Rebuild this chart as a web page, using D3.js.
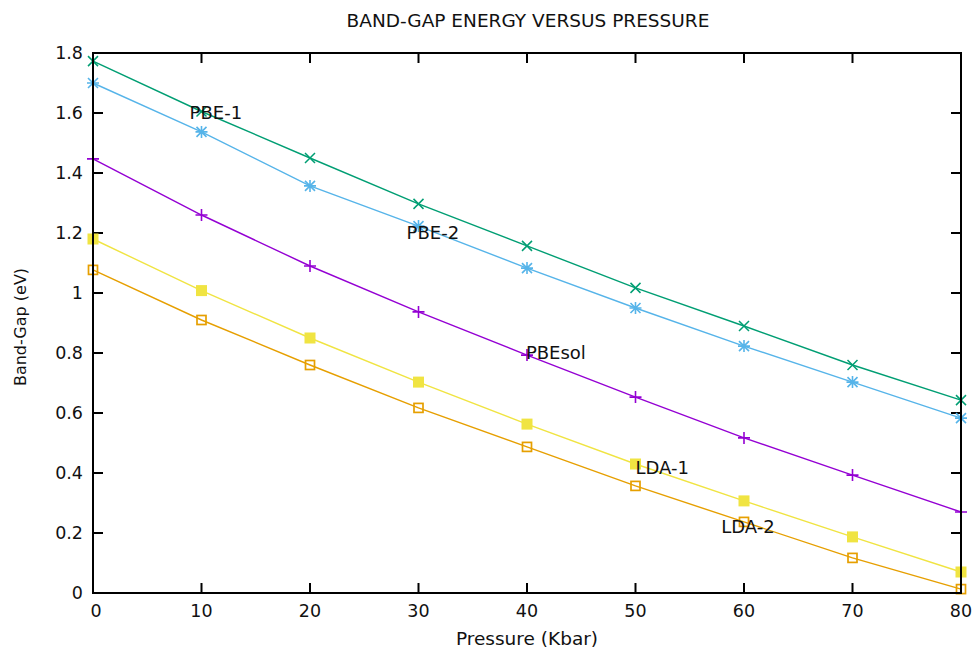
<!DOCTYPE html>
<html>
<head>
<meta charset="utf-8">
<script src="https://cdn.jsdelivr.net/npm/d3@7"></script>
<style>
  body { margin: 0; background: #fff; }
  text { font-family: "DejaVu Sans", sans-serif; fill: #111; }
</style>
</head>
<body>
<div id="canvas"></div>
<script>
// data
let pressure = [0, 10, 20, 30, 40, 50, 60, 70, 80];
let pbe1   = [1.773, 1.605, 1.450, 1.297, 1.157, 1.017, 0.890, 0.760, 0.643];
let pbe2   = [1.700, 1.537, 1.357, 1.223, 1.083, 0.950, 0.823, 0.703, 0.583];
let pbesol = [1.447, 1.260, 1.090, 0.937, 0.793, 0.653, 0.517, 0.393, 0.270];
let lda1   = [1.180, 1.008, 0.850, 0.703, 0.563, 0.430, 0.307, 0.187, 0.070];
let lda2   = [1.077, 0.910, 0.760, 0.617, 0.487, 0.357, 0.237, 0.117, 0.013];
let xTicks = [0, 10, 20, 30, 40, 50, 60, 70, 80];
let yTicks = [0, 0.2, 0.4, 0.6, 0.8, 1, 1.2, 1.4, 1.6, 1.8];
// label text and where it sits (data units)
let labelNames = ["PBE-1", "PBE-2", "PBEsol", "LDA-1", "LDA-2"];
let labelX = [8.9, 28.9, 39.9, 50, 57.9];
let labelY = [1.6, 1.2, 0.8, 0.417, 0.22];

let W = 976, H = 648;
let plotL = 93, plotR = 961, plotT = 53, plotB = 593;

let drawing = d3.select("#canvas").append("svg")
    .attr("width", W).attr("height", H);

let x = d3.scaleLinear().domain([0, 80]).range([plotL, plotR]);
let y = d3.scaleLinear().domain([0, 1.8]).range([plotB, plotT]);

// title
drawing.append("text")
    .attr("x", 528).attr("y", 27)
    .attr("text-anchor", "middle")
    .attr("font-size", 18.5)
    .text("BAND-GAP ENERGY VERSUS PRESSURE");

// ticks on all four sides, pointing in
let tickLen = 10;
let ticks = drawing.append("g").attr("stroke", "#000").attr("stroke-width", 2);
xTicks.forEach(function (t) {
    ticks.append("line").attr("x1", x(t)).attr("x2", x(t)).attr("y1", plotB).attr("y2", plotB - tickLen);
    ticks.append("line").attr("x1", x(t)).attr("x2", x(t)).attr("y1", plotT).attr("y2", plotT + tickLen);
});
yTicks.forEach(function (t) {
    ticks.append("line").attr("x1", plotL).attr("x2", plotL + tickLen).attr("y1", y(t)).attr("y2", y(t));
    ticks.append("line").attr("x1", plotR).attr("x2", plotR - tickLen).attr("y1", y(t)).attr("y2", y(t));
});

// tick labels
drawing.append("g").selectAll("text").data(xTicks).join("text")
    .attr("x", d => x(d) + (d == 0 ? 3 : 0)).attr("y", 617)
    .attr("text-anchor", "middle").attr("font-size", 17.5)
    .text(d => d);
drawing.append("g").selectAll("text").data(yTicks).join("text")
    .attr("x", 83).attr("y", d => y(d) + 6)
    .attr("text-anchor", "end").attr("font-size", 17.5)
    .text(d => d3.format("~g")(d));

// axis titles
drawing.append("text")
    .attr("x", 527).attr("y", 645)
    .attr("text-anchor", "middle").attr("font-size", 18.5)
    .text("Pressure (Kbar)");
drawing.append("text")
    .attr("transform", "translate(26,327) rotate(-90)")
    .attr("text-anchor", "middle").attr("font-size", 16)
    .text("Band-Gap (eV)");

// series
let series = [
    { vals: pbesol, color: "#9400d3", mark: "plus" },
    { vals: pbe1,   color: "#009e73", mark: "cross" },
    { vals: pbe2,   color: "#56b4e9", mark: "star" },
    { vals: lda2,   color: "#e69f00", mark: "box" },
    { vals: lda1,   color: "#f0e442", mark: "fbox" }
];

let line = d3.line().x((d, i) => x(pressure[i])).y(d => y(d));

series.forEach(function (s) {
    let g = drawing.append("g");
    g.append("path").attr("d", line(s.vals))
        .attr("fill", "none").attr("stroke", s.color).attr("stroke-width", 1.4);
    s.vals.forEach(function (v, i) {
        let cx = x(pressure[i]), cy = y(v), r = 5;
        if (s.mark == "plus") {
            g.append("path").attr("d", `M${cx - 6},${cy}H${cx + 6}M${cx},${cy - 6}V${cy + 6}`)
                .attr("stroke", s.color).attr("stroke-width", 1.6);
        } else if (s.mark == "cross") {
            g.append("path").attr("d", `M${cx - r},${cy - r}L${cx + r},${cy + r}M${cx - r},${cy + r}L${cx + r},${cy - r}`)
                .attr("stroke", s.color).attr("stroke-width", 1.5);
        } else if (s.mark == "star") {
            g.append("path").attr("d", `M${cx - r},${cy - r}L${cx + r},${cy + r}M${cx - r},${cy + r}L${cx + r},${cy - r}M${cx - 6},${cy}H${cx + 6}M${cx},${cy - 6}V${cy + 6}`)
                .attr("stroke", s.color).attr("stroke-width", 1.6);
        } else if (s.mark == "box") {
            g.append("rect").attr("x", cx - 4.5).attr("y", cy - 4.5).attr("width", 9).attr("height", 9)
                .attr("fill", "none").attr("stroke", s.color).attr("stroke-width", 1.7);
        } else {
            g.append("rect").attr("x", cx - 5.5).attr("y", cy - 5.5).attr("width", 11).attr("height", 11)
                .attr("fill", s.color);
        }
    });
});

// border
drawing.append("rect")
    .attr("x", plotL).attr("y", plotT).attr("width", plotR - plotL).attr("height", plotB - plotT)
    .attr("fill", "none").attr("stroke", "#000").attr("stroke-width", 2);

// in-plot labels
drawing.append("g").selectAll("text").data(labelNames).join("text")
    .attr("x", (d, i) => x(labelX[i])).attr("y", (d, i) => y(labelY[i]) + 6)
    .attr("font-size", 18)
    .text(d => d);
</script>
</body>
</html>
